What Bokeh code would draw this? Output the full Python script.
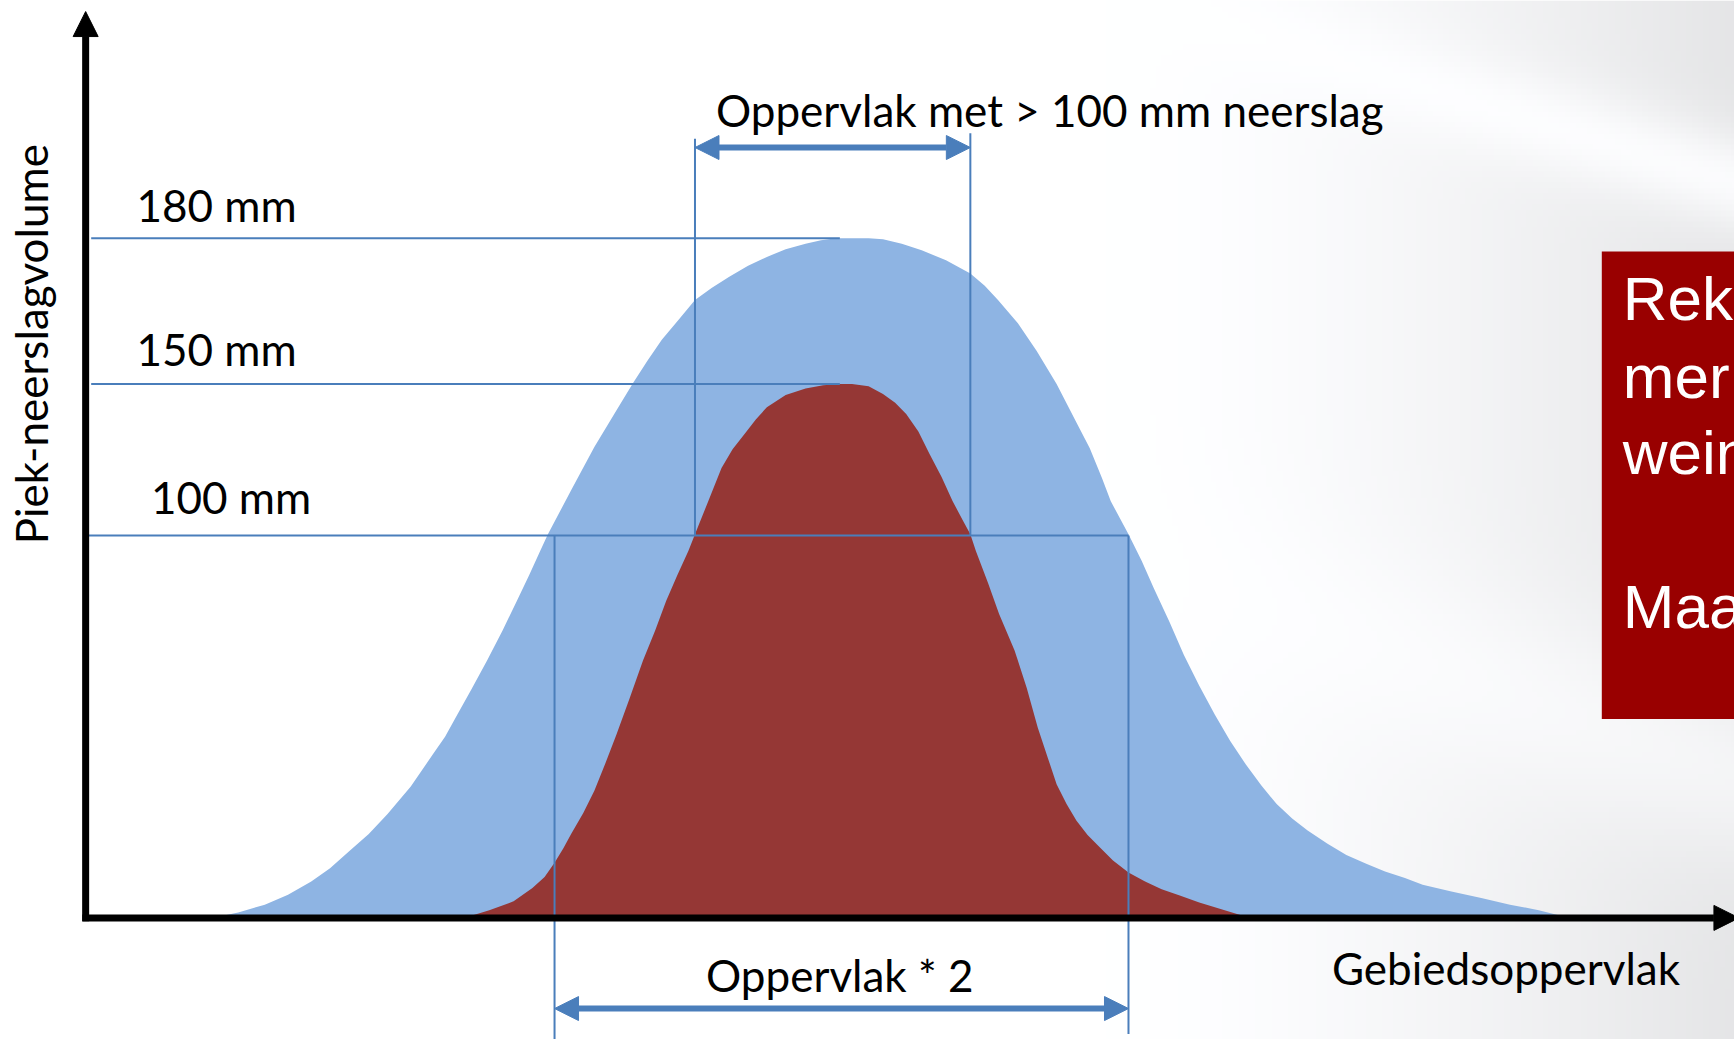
import numpy as np
from bokeh.plotting import figure
from bokeh.models import Range1d, Arrow, NormalHead
from bokeh.core.properties import value
from bokeh.embed import file_html
from bokeh.resources import INLINE

# ---- data (schematic coordinates; y grows downward) ----
blue_x = [191, 215, 239, 260, 281, 298, 315, 333, 350, 371, 391, 402, 412, 426, 440, 454, 467, 478, 488, 495,
          516, 537, 555, 572, 585, 598, 613, 628, 643, 659, 676, 693, 710, 728, 742, 756, 770, 785, 798,
          815, 833, 855, 877, 890, 902, 920, 937, 955, 972, 985, 996, 1004, 1012, 1020, 1032, 1043, 1057,
          1070, 1084, 1098, 1112, 1126, 1140, 1154, 1168, 1182, 1200, 1217, 1235, 1252, 1270, 1286, 1312,
          1339, 1365, 1391, 1419]
blue_y = [830, 825, 818, 809, 797, 785, 770, 754, 736, 711, 682, 666, 648, 623, 597, 570, 543, 520, 498, 483,
          443, 404, 374, 346, 326, 307, 289, 271, 260, 250, 240, 232, 225, 220, 217, 215, 215, 215, 216,
          220, 226, 235, 247, 258, 271, 292, 317, 347, 380, 405, 432, 453, 468, 483, 507, 532, 562,
          592, 620, 646, 670, 691, 710, 727, 740, 751, 763, 773, 781, 788, 794, 800, 806,
          812, 818, 823, 830]
red_x = [419, 442, 464, 481, 492, 501, 509, 516, 527, 537, 547, 557, 569, 581, 592, 602, 612, 622, 628, 640,
         652, 662, 673, 683, 693, 710, 728, 744, 759, 770, 785, 798, 809, 819, 830, 840, 851, 861, 870,
         877, 882, 893, 903, 917, 928, 938, 947, 955, 964, 973, 983, 994, 1006, 1020, 1035, 1050, 1067,
         1084, 1107, 1130]
red_y = [830, 823, 815, 803, 793, 780, 767, 754, 735, 715, 690, 664, 631, 597, 570, 543, 520, 498, 483, 453,
         423, 406, 392, 379, 368, 357, 351, 348, 347, 347, 349, 356, 364, 374, 390, 410, 431, 453, 470,
         483, 498, 527, 555, 588, 622, 658, 685, 709, 727, 742, 755, 766, 778, 789, 797, 804, 810,
         816, 823, 830]

level_labels = ["180 mm", "150 mm", "100 mm"]
level_y = [215, 347, 484]
level_line_x0 = [82, 82, 77]
level_line_x1 = [759, 759, 1020]
level_label_x = [123, 123, 136]
level_label_base = [185, 315, 449]

top_span = [628, 877]      # Oppervlak met > 100 mm neerslag
bottom_span = [501, 1020]  # Oppervlak * 2

box_lines = ["Rek", "mer", "wein", "Maa"]
box_line_base = [270, 340, 409, 548]

W, H = 1734, 1039

p = figure(width=W, height=H, output_backend="svg", toolbar_location=None,
           x_range=Range1d(0, 1568), y_range=Range1d(940, 0), min_border=0)
p.axis.visible = False
p.xgrid.visible = False
p.ygrid.visible = False
p.outline_line_color = None
p.background_fill_color = "white"
p.border_fill_color = "white"

# ---- decorative background gradient ----
step = 5
nx, ny = int(1570 / step), int(940 / step)
Xg, Yg = np.meshgrid((np.arange(nx) + 0.5) * step, (np.arange(ny) + 0.5) * step)
t = np.clip((Xg - 1000) / 568.0, 0, 1)
d = 26 * t ** 1.5
yc = 45 + (Xg - 1175) * 0.305
band = np.exp(-((Yg - yc) / 45.0) ** 2)
d = d * (1 - 0.85 * band)
yc2 = 560 + (Xg - 1175) * 0.35
band2 = np.exp(-((Yg - yc2) / 90.0) ** 2)
d = d * (1 - 0.6 * band2)
img = np.empty((ny, nx), dtype=np.uint32)
v = img.view(dtype=np.uint8).reshape((ny, nx, 4))
v[:, :, 0] = np.clip(255 - d, 0, 255).astype(np.uint8)
v[:, :, 1] = np.clip(255 - d + 0.5, 0, 255).astype(np.uint8)
v[:, :, 2] = np.clip(255 - d + 2, 0, 255).astype(np.uint8)
v[:, :, 3] = 255
p.image_rgba(image=[img], x=0, y=0, dw=1570, dh=940)

# ---- shapes ----
p.patch(blue_x, blue_y, fill_color="#8eb4e3", line_color=None)
p.patch(red_x, red_y, fill_color="#953735", line_color=None)

LC = "#4a7ebb"
p.segment(x0=level_line_x0, y0=level_y, x1=level_line_x1, y1=level_y, line_color=LC, line_width=2)
p.segment(x0=[top_span[0], top_span[1], bottom_span[0], bottom_span[1]],
          y0=[125, 120, level_y[2], level_y[2]],
          x1=[top_span[0], top_span[1], bottom_span[0], bottom_span[1]],
          y1=[level_y[2], level_y[2], 940, 935], line_color=LC, line_width=2)

# dimension arrows
for (xa, xb, yy) in [(top_span[0], top_span[1], 133), (bottom_span[0], bottom_span[1], 912)]:
    p.add_layout(Arrow(start=NormalHead(size=24, fill_color=LC, line_color=LC, line_width=1),
                       end=NormalHead(size=24, fill_color=LC, line_color=LC, line_width=1),
                       x_start=xa, y_start=yy, x_end=xb, y_end=yy,
                       line_color=LC, line_width=6))

# axes
p.add_layout(Arrow(end=NormalHead(size=25, fill_color="black", line_color="black", line_width=1),
                   x_start=77, y_start=833, x_end=77, y_end=10, line_color="black", line_width=7))
p.add_layout(Arrow(end=NormalHead(size=25, fill_color="black", line_color="black", line_width=1),
                   x_start=74, y_start=830, x_end=1572, y_end=830, line_color="black", line_width=7))

FONT = value("Lato")
FS = value("44px")
p.text(x=level_label_x, y=level_label_base, text=level_labels, text_font=FONT, text_font_size=FS,
       text_color="black", text_baseline="alphabetic", text_align="left")
p.text(x=[647], y=[99], text=["Oppervlak met > 100 mm neerslag"], text_font=FONT, text_font_size=FS,
       text_color="black", text_baseline="alphabetic", text_align="left")
p.text(x=[638], y=[882], text=["Oppervlak * 2"], text_font=FONT, text_font_size=FS,
       text_color="black", text_baseline="alphabetic", text_align="left")
p.text(x=[1204], y=[875], text=["Gebiedsoppervlak"], text_font=FONT, text_font_size=FS,
       text_color="black", text_baseline="alphabetic", text_align="left")
p.text(x=[28], y=[492], text=["Piek-neerslagvolume"], angle=np.pi / 2, text_font=FONT, text_font_size=FS,
       text_color="black", text_baseline="alphabetic", text_align="left")

# red box on the right
p.quad(left=[1448], right=[1600], top=[227], bottom=[650], fill_color="#990000", line_color=None)
p.text(x=[1467] * len(box_lines), y=box_line_base, text=box_lines, text_font=value("Liberation Sans"),
       text_font_size=value("62px"), text_color="white", text_baseline="alphabetic", text_align="left")

open("out.html", "w").write(file_html(p, INLINE))
